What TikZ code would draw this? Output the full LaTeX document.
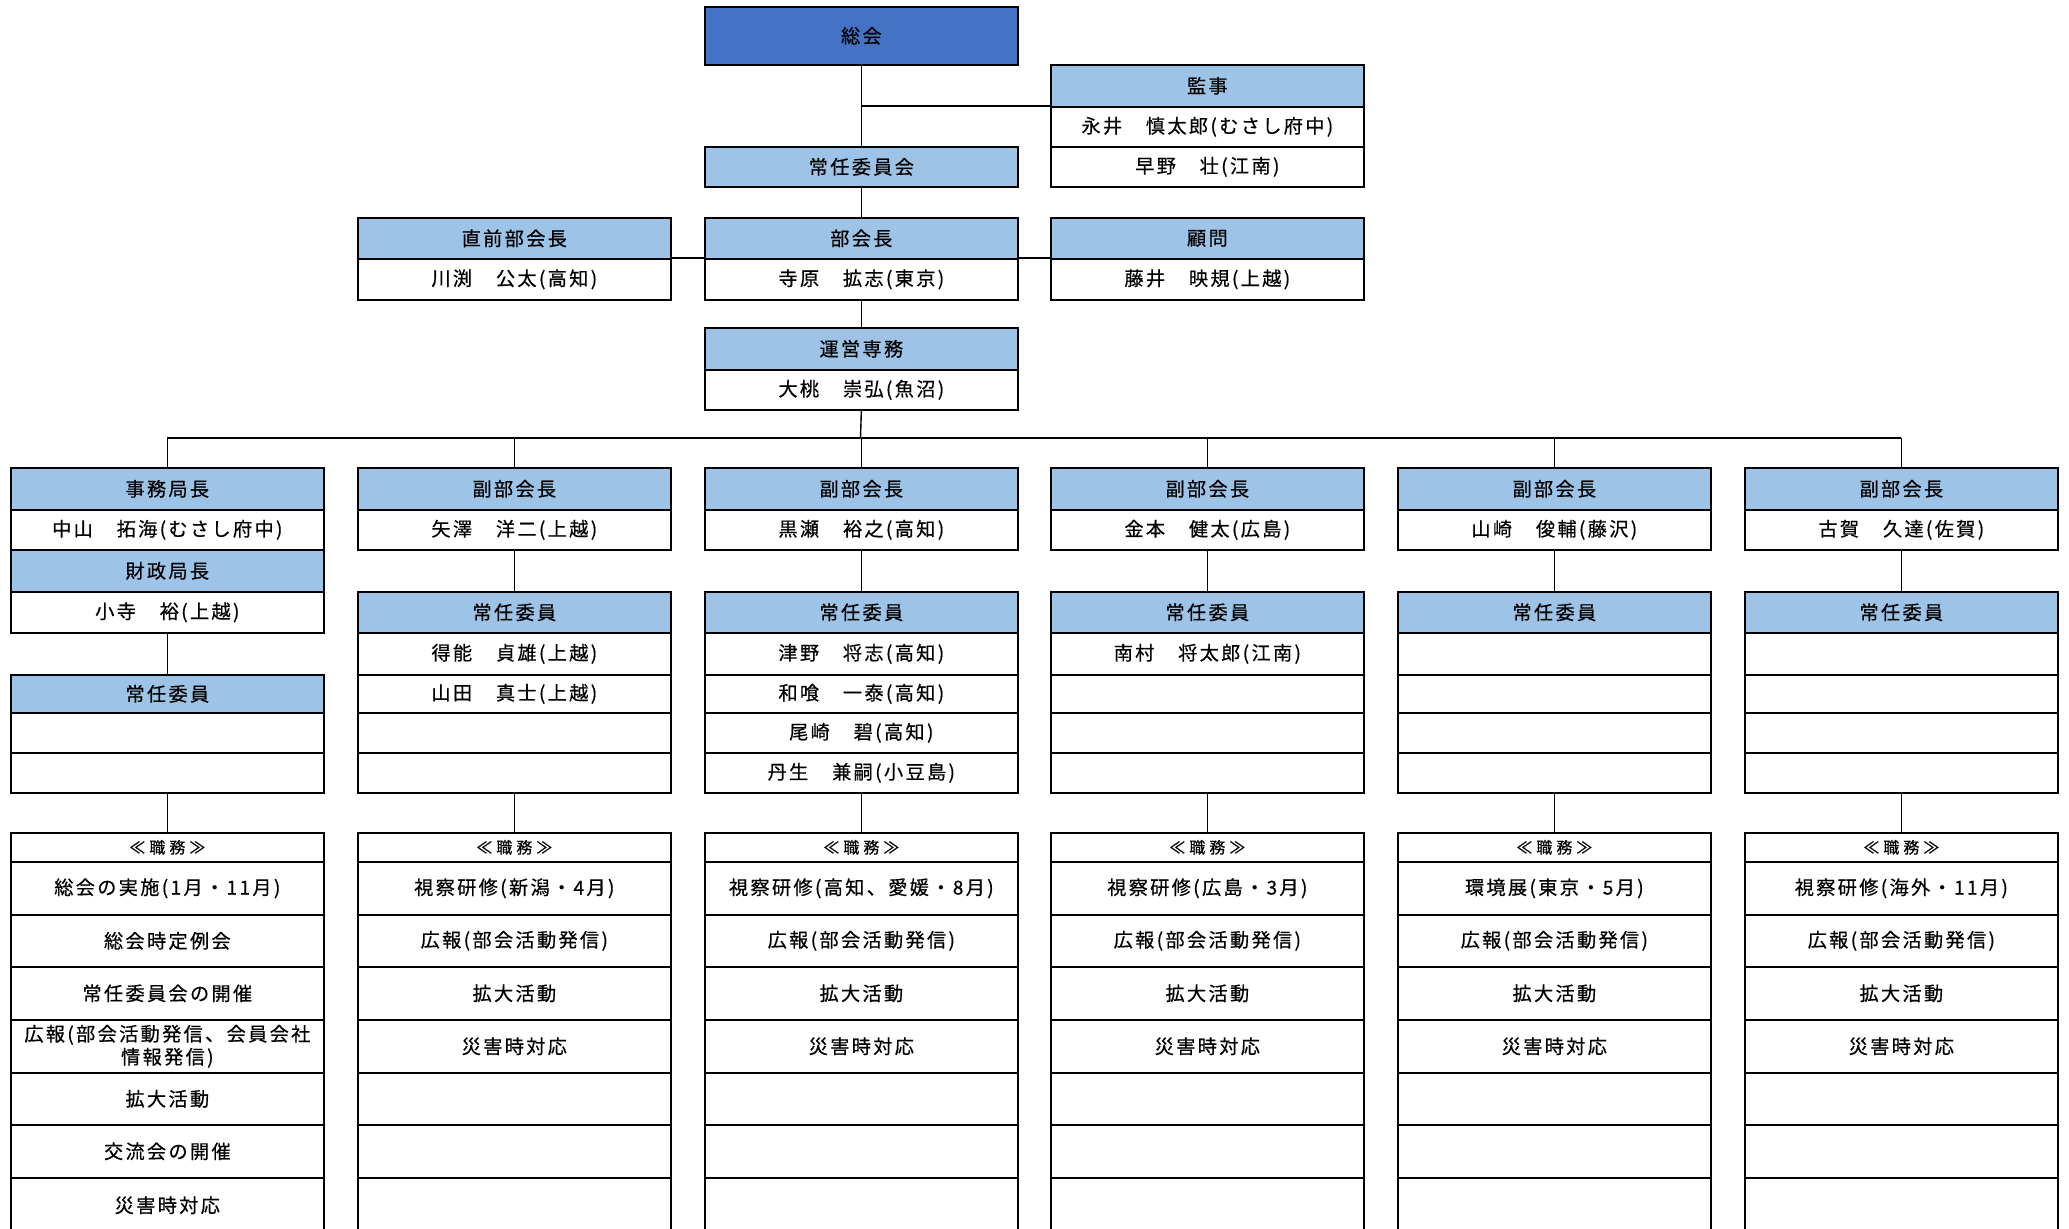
\documentclass[tikz,border=0pt]{standalone}
\usepackage{fontspec}
\newfontfamily\jp[LetterSpace=12,FakeBold=0.5]{Noto Sans CJK JP}
\newfontfamily\jpd[LetterSpace=25,FakeBold=0.5]{Noto Sans CJK JP}
\definecolor{hdblue}{HTML}{9DC3E6}
\definecolor{topblue}{HTML}{4472C4}
\tikzset{
  cell/.style={draw, line width=0.85pt, fill=white, minimum width=156.5pt, inner sep=0pt,
    anchor=north west, align=center, text=black,
    font=\jp\fontsize{9.6pt}{11.5pt}\selectfont},
  hd/.style={cell, fill=hdblue},
  dhd/.style={cell, font=\jpd\fontsize{8pt}{10pt}\selectfont},
  rh/.style={minimum height=#1*0.5pt},
  conn/.style={line width=0.7pt}
}
\begin{document}
\begin{tikzpicture}[x=0.5pt,y=-0.5pt]
\useasboundingbox (0,0) rectangle (2069,1229);
\clip (0,0) rectangle (2069,1229);
\fill[white] (0,0) rectangle (2069,1229);

% top part
\node[hd, fill=topblue, rh=58] (soukai) at (704,6) {総会};
\node[hd, rh=42] (kanji) at (1050,64) {監事};
\node[cell, rh=40] (kanji1) at (1050,106) {永井　慎太郎(むさし府中)};
\node[cell, rh=40] (kanji2) at (1050,146) {早野　壮(江南)};
\node[hd, rh=40] (jonin) at (704,146) {常任委員会};
\node[hd, rh=41] (mae) at (357,217) {直前部会長};
\node[cell, rh=41] (mae1) at (357,258) {川渕　公太(高知)};
\node[hd, rh=41] (buk) at (704,217) {部会長};
\node[cell, rh=41] (buk1) at (704,258) {寺原　拡志(東京)};
\node[hd, rh=41] (komon) at (1050,217) {顧問};
\node[cell, rh=41] (komon1) at (1050,258) {藤井　映規(上越)};
\node[hd, rh=42] (unei) at (704,327) {運営専務};
\node[cell, rh=40] (unei1) at (704,369) {大桃　崇弘(魚沼)};
\coordinate (bus) at (860.5,438);

\draw[conn] (soukai.south) -- (jonin.north);
\draw[conn] (soukai.south |- kanji1.north west) -- (kanji1.north west);
\draw[conn] (jonin.south) -- (buk.north);
\draw[conn] (mae1.north east) -- (buk1.north west);
\draw[conn] (buk1.north east) -- (komon1.north west);
\draw[conn] (buk1.south) -- (unei.north);
\draw[conn] (unei1.south) -- (bus);

% column 1
\node[hd, rh=42] (vp1) at (10,467) {事務局長};
\node[cell, rh=40] (vpn1) at (10,509) {中山　拓海(むさし府中)};
\node[hd, rh=42] (zai1) at (10,549) {財政局長};
\node[cell, rh=41] (zain1) at (10,591) {小寺　裕(上越)};
\node[hd, rh=38] (st1) at (10,674) {常任委員};
\node[cell, rh=40] (sta1) at (10,712) {};
\node[cell, rh=40] (stb1) at (10,752) {};
\node[dhd, rh=29] (du1) at (10,832) {≪職務≫};
\node[cell, rh=53] (dua1) at (10,861) {総会の実施(1月・11月)};
\node[cell, rh=52] (dub1) at (10,914) {総会時定例会};
\node[cell, rh=53] (duc1) at (10,966) {常任委員会の開催};
\node[cell, rh=53] (dud1) at (10,1019) {広報(部会活動発信、会員会社\\情報発信)};
\node[cell, rh=52] (due1) at (10,1072) {拡大活動};
\node[cell, rh=53] (duf1) at (10,1124) {交流会の開催};
\node[cell, rh=55] (dug1) at (10,1177) {災害時対応};
\draw[conn] (vp1.north |- bus) -- (vp1.north);
\draw[conn] (zain1.south) -- (st1.north);
\draw[conn] (stb1.south) -- (du1.north);

% columns 2-6
\foreach \i/\L/\vpname/\ma/\mb/\mc/\md/\duty in {
  2/357/{矢澤　洋二(上越)}/{得能　貞雄(上越)}/{山田　真士(上越)}/{}/{}/{視察研修(新潟・4月)},
  3/704/{黒瀬　裕之(高知)}/{津野　将志(高知)}/{和喰　一泰(高知)}/{尾崎　碧(高知)}/{丹生　兼嗣(小豆島)}/{視察研修(高知、愛媛・8月)},
  4/1050/{金本　健太(広島)}/{南村　将太郎(江南)}/{}/{}/{}/{視察研修(広島・3月)},
  5/1397/{山崎　俊輔(藤沢)}/{}/{}/{}/{}/{環境展(東京・5月)},
  6/1744/{古賀　久達(佐賀)}/{}/{}/{}/{}/{視察研修(海外・11月)}}{
  \node[hd, rh=42] (vp\i) at (\L,467) {副部会長};
  \node[cell, rh=40] (vpn\i) at (\L,509) {\vpname};
  \node[hd, rh=41] (st\i) at (\L,591) {常任委員};
  \node[cell, rh=42] (sta\i) at (\L,632) {\ma};
  \node[cell, rh=38] (stb\i) at (\L,674) {\mb};
  \node[cell, rh=40] (stc\i) at (\L,712) {\mc};
  \node[cell, rh=40] (std\i) at (\L,752) {\md};
  \node[dhd, rh=29] (du\i) at (\L,832) {≪職務≫};
  \node[cell, rh=53] (dua\i) at (\L,861) {\duty};
  \node[cell, rh=52] (dub\i) at (\L,914) {広報(部会活動発信)};
  \node[cell, rh=53] (duc\i) at (\L,966) {拡大活動};
  \node[cell, rh=53] (dud\i) at (\L,1019) {災害時対応};
  \node[cell, rh=52] (due\i) at (\L,1072) {};
  \node[cell, rh=53] (duf\i) at (\L,1124) {};
  \node[cell, rh=55] (dug\i) at (\L,1177) {};
  \draw[conn] (vp\i.north |- bus) -- (vp\i.north);
  \draw[conn] (vpn\i.south) -- (st\i.north);
  \draw[conn] (std\i.south) -- (du\i.north);
}
\draw[conn] (vp1.north |- bus) -- (vp6.north |- bus);
\end{tikzpicture}
\end{document}
